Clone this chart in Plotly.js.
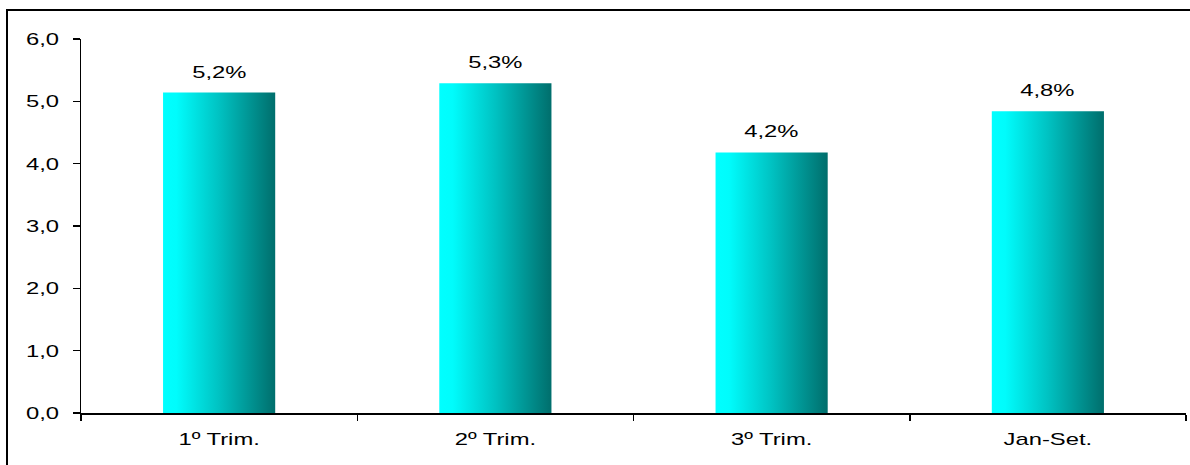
<!DOCTYPE html>
<html>
<head>
<meta charset="utf-8">
<script src="https://cdn.plot.ly/plotly-3.0.1.min.js"></script>
<style>
  html, body { margin: 0; padding: 0; background: #fff; overflow: hidden; }
  #wrap { position: relative; width: 1190px; height: 465px; overflow: hidden; }
  #frame { position: absolute; left: 6px; top: 9px; width: 1300px; height: 600px; border: 2px solid #000; box-sizing: border-box; pointer-events: none; }
  #chart { position: absolute; left: 0; top: 0; width: 1190px; height: 465px; }
</style>
</head>
<body>
<div id="wrap">
  <div id="chart"></div>
  <div id="frame"></div>
</div>
<script>
const categories = ["1º Trim.", "2º Trim.", "3º Trim.", "Jan-Set."];
const values = [5.14, 5.29, 4.18, 4.84];
const valueLabels = ["5,2%", "5,3%", "4,2%", "4,8%"];
const yTickValues = [0, 1, 2, 3, 4, 5, 6];
const yTickLabels = ["0,0", "1,0", "2,0", "3,0", "4,0", "5,0", "6,0"];

const FONT = { family: "Liberation Sans, Arial, sans-serif", size: 17, color: "#000" };

const trace = {
  type: "bar",
  x: categories,
  y: values,
  marker: { color: "#00c0c0", line: { width: 0 } },
  hoverinfo: "none"
};

const annotations = categories.map((c, i) => ({
  x: c, y: values[i], xref: "x", yref: "y",
  text: valueLabels[i], showarrow: false,
  yanchor: "bottom", yshift: 9, font: FONT
}));

const layout = {
  width: 1190, height: 465,
  margin: { l: 81, r: 4, t: 39, b: 52 },
  paper_bgcolor: "rgba(0,0,0,0)",
  plot_bgcolor: "rgba(0,0,0,0)",
  showlegend: false,
  bargap: 0.594,
  font: FONT,
  xaxis: {
    type: "category",
    showline: true, linecolor: "#000", linewidth: 1.5,
    ticks: "outside", tickson: "boundaries", ticklen: 6, tickcolor: "#000", tickwidth: 1.5,
    ticklabelstandoff: 10,
    showgrid: false, zeroline: false,
    tickfont: FONT
  },
  yaxis: {
    range: [0, 6],
    tickvals: yTickValues, ticktext: yTickLabels,
    showline: true, linecolor: "#000", linewidth: 1.5,
    ticks: "outside", ticklen: 7, tickcolor: "#000", tickwidth: 1.5,
    ticklabelstandoff: 10,
    showgrid: false, zeroline: false,
    tickfont: FONT
  },
  annotations: annotations
};

Plotly.newPlot("chart", [trace], layout, { staticPlot: true, displayModeBar: false }).then(gd => {
  const svgNS = "http://www.w3.org/2000/svg";
  const svg = gd.querySelector("svg.main-svg");
  // horizontal gradient for bars
  let defs = svg.querySelector("defs");
  if (!defs) { defs = document.createElementNS(svgNS, "defs"); svg.insertBefore(defs, svg.firstChild); }
  const lg = document.createElementNS(svgNS, "linearGradient");
  lg.setAttribute("id", "barGrad");
  lg.setAttribute("x1", "0"); lg.setAttribute("y1", "0");
  lg.setAttribute("x2", "1"); lg.setAttribute("y2", "0");
  [["0", "#00ffff"], ["0.12", "#00fcfc"], ["0.5", "#00c2c2"], ["1", "#006e6c"]].forEach(([o, c]) => {
    const s = document.createElementNS(svgNS, "stop");
    s.setAttribute("offset", o); s.setAttribute("stop-color", c);
    lg.appendChild(s);
  });
  defs.appendChild(lg);
  gd.querySelectorAll(".bars .point path").forEach(p => { p.style.fill = "url(#barGrad)"; });

  // horizontally stretched text as in the reference
  const SX = 1.4;
  function stretch(sel, anchor) {
    gd.querySelectorAll(sel).forEach(t => {
      const parent = t.parentNode;
      const g = document.createElementNS(svgNS, "g");
      parent.insertBefore(g, t);
      g.appendChild(t);
      const r = t.getBoundingClientRect();
      const px = anchor === "end" ? r.right : (r.left + r.right) / 2;
      const owner = g.ownerSVGElement;
      const pt = owner.createSVGPoint();
      pt.x = px; pt.y = (r.top + r.bottom) / 2;
      const lp = pt.matrixTransform(g.getScreenCTM().inverse());
      g.setAttribute("transform", `translate(${lp.x},0) scale(${SX},1) translate(${-lp.x},0)`);
    });
  }
  stretch(".ytick text", "end");
  stretch(".xtick text", "middle");
  stretch(".annotation-text", "middle");
});
</script>
</body>
</html>
